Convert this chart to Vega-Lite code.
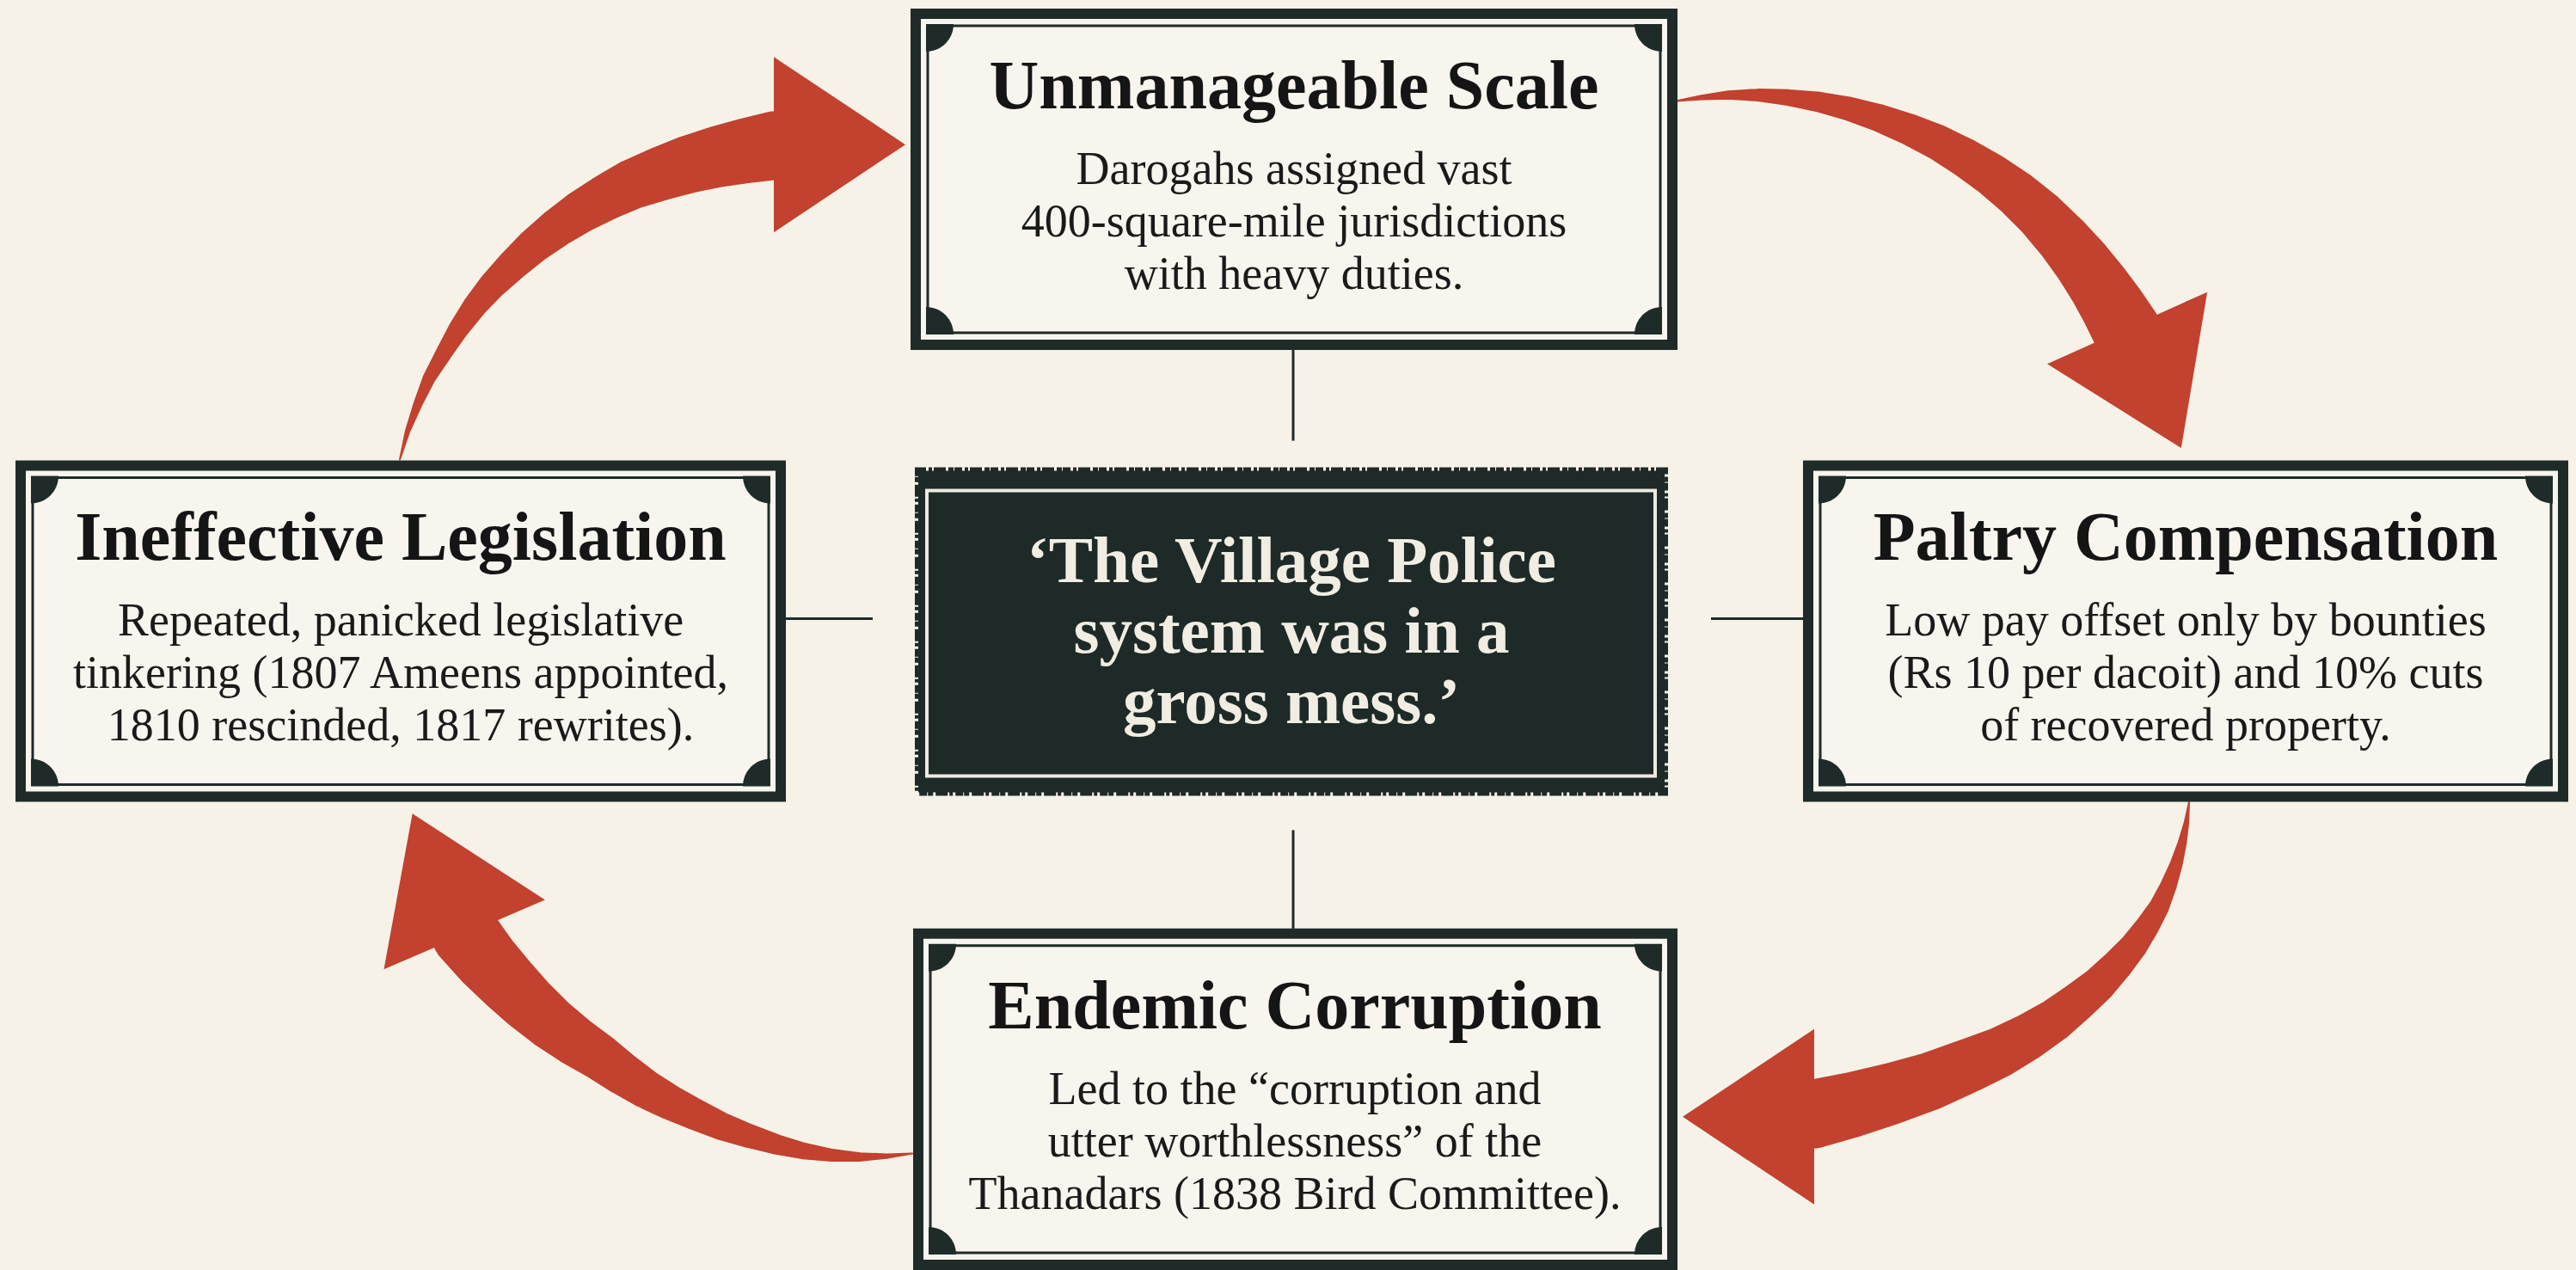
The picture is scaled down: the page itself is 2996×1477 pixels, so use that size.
{
  "$schema": "https://vega.github.io/schema/vega-lite/v6.json",
  "width": 2996,
  "height": 1477,
  "autosize": {"type": "fit", "contains": "padding"},
  "padding": 0,
  "background": "#f6f2e8",
  "config": {"view": {"stroke": null}},
  "datasets": {
    "boxes": [
      {"id": "top", "x1": 1065, "x2": 1945, "y1": 16, "y2": 403, "cx": 1505, "title": "Unmanageable Scale", "body": "Darogahs assigned vast\n400-square-mile jurisdictions\nwith heavy duties."},
      {"id": "left", "x1": 24, "x2": 908, "y1": 544, "y2": 931, "cx": 466, "title": "Ineffective Legislation", "body": "Repeated, panicked legislative\ntinkering (1807 Ameens appointed,\n1810 rescinded, 1817 rewrites)."},
      {"id": "right", "x1": 2103, "x2": 2981, "y1": 544, "y2": 931, "cx": 2542, "title": "Paltry Compensation", "body": "Low pay offset only by bounties\n(Rs 10 per dacoit) and 10% cuts\nof recovered property."},
      {"id": "bottom", "x1": 1068, "x2": 1945, "y1": 1091, "y2": 1478, "cx": 1506, "title": "Endemic Corruption", "body": "Led to the \u201ccorruption and\nutter worthlessness\u201d of the\nThanadars (1838 Bird Committee)."}
    ],
    "center": [
      {"x1": 1068, "x2": 1936, "y1": 550, "y2": 926, "cx": 1502, "ty": 680, "quote": "\u2018The Village Police\nsystem was in a\ngross mess.\u2019"}
    ],
    "links": [
      {"x": 1504, "y": 409, "x2": 1504, "y2": 515},
      {"x": 1504, "y": 970, "x2": 1504, "y2": 1085},
      {"x": 914, "y": 723, "x2": 1015, "y2": 723},
      {"x": 1990, "y": 723, "x2": 2097, "y2": 723}
    ],
    "arrows": [
      {"arrow": "A", "t": 0, "x": 465, "y": 537},
      {"arrow": "A", "t": 1, "x": 474, "y": 504},
      {"arrow": "A", "t": 2, "x": 486, "y": 472},
      {"arrow": "A", "t": 3, "x": 499, "y": 442},
      {"arrow": "A", "t": 4, "x": 516, "y": 413},
      {"arrow": "A", "t": 5, "x": 533, "y": 385},
      {"arrow": "A", "t": 6, "x": 552, "y": 358},
      {"arrow": "A", "t": 7, "x": 573, "y": 333},
      {"arrow": "A", "t": 8, "x": 596, "y": 310},
      {"arrow": "A", "t": 9, "x": 621, "y": 287},
      {"arrow": "A", "t": 10, "x": 648, "y": 266},
      {"arrow": "A", "t": 11, "x": 676, "y": 247},
      {"arrow": "A", "t": 12, "x": 706, "y": 230},
      {"arrow": "A", "t": 13, "x": 736, "y": 215},
      {"arrow": "A", "t": 14, "x": 768, "y": 203},
      {"arrow": "A", "t": 15, "x": 801, "y": 192},
      {"arrow": "A", "t": 16, "x": 835, "y": 183},
      {"arrow": "A", "t": 17, "x": 868, "y": 176},
      {"arrow": "A", "t": 18, "x": 902, "y": 170},
      {"arrow": "B", "t": 0, "x": 1949, "y": 118},
      {"arrow": "B", "t": 1, "x": 1979, "y": 114},
      {"arrow": "B", "t": 2, "x": 2010, "y": 111},
      {"arrow": "B", "t": 3, "x": 2045, "y": 111},
      {"arrow": "B", "t": 4, "x": 2080, "y": 114},
      {"arrow": "B", "t": 5, "x": 2115, "y": 119},
      {"arrow": "B", "t": 6, "x": 2150, "y": 127},
      {"arrow": "B", "t": 7, "x": 2186, "y": 138},
      {"arrow": "B", "t": 8, "x": 2220, "y": 151},
      {"arrow": "B", "t": 9, "x": 2253, "y": 166},
      {"arrow": "B", "t": 10, "x": 2285, "y": 184},
      {"arrow": "B", "t": 11, "x": 2316, "y": 204},
      {"arrow": "B", "t": 12, "x": 2345, "y": 226},
      {"arrow": "B", "t": 13, "x": 2374, "y": 252},
      {"arrow": "B", "t": 14, "x": 2400, "y": 280},
      {"arrow": "B", "t": 15, "x": 2422, "y": 307},
      {"arrow": "B", "t": 16, "x": 2442, "y": 335},
      {"arrow": "B", "t": 17, "x": 2458, "y": 360},
      {"arrow": "B", "t": 18, "x": 2473, "y": 386},
      {"arrow": "C", "t": 0, "x": 2546, "y": 937},
      {"arrow": "C", "t": 1, "x": 2543, "y": 961},
      {"arrow": "C", "t": 2, "x": 2538, "y": 985},
      {"arrow": "C", "t": 3, "x": 2531, "y": 1010},
      {"arrow": "C", "t": 4, "x": 2522, "y": 1035},
      {"arrow": "C", "t": 5, "x": 2511, "y": 1060},
      {"arrow": "C", "t": 6, "x": 2497, "y": 1083},
      {"arrow": "C", "t": 7, "x": 2481, "y": 1106},
      {"arrow": "C", "t": 8, "x": 2462, "y": 1128},
      {"arrow": "C", "t": 9, "x": 2440, "y": 1151},
      {"arrow": "C", "t": 10, "x": 2415, "y": 1172},
      {"arrow": "C", "t": 11, "x": 2388, "y": 1193},
      {"arrow": "C", "t": 12, "x": 2358, "y": 1212},
      {"arrow": "C", "t": 13, "x": 2325, "y": 1230},
      {"arrow": "C", "t": 14, "x": 2290, "y": 1245},
      {"arrow": "C", "t": 15, "x": 2246, "y": 1263},
      {"arrow": "C", "t": 16, "x": 2200, "y": 1278},
      {"arrow": "C", "t": 17, "x": 2154, "y": 1291},
      {"arrow": "C", "t": 18, "x": 2108, "y": 1302},
      {"arrow": "D", "t": 0, "x": 1061, "y": 1348},
      {"arrow": "D", "t": 1, "x": 1031, "y": 1351},
      {"arrow": "D", "t": 2, "x": 1000, "y": 1352},
      {"arrow": "D", "t": 3, "x": 968, "y": 1350},
      {"arrow": "D", "t": 4, "x": 935, "y": 1345},
      {"arrow": "D", "t": 5, "x": 902, "y": 1337},
      {"arrow": "D", "t": 6, "x": 870, "y": 1327},
      {"arrow": "D", "t": 7, "x": 839, "y": 1316},
      {"arrow": "D", "t": 8, "x": 808, "y": 1302},
      {"arrow": "D", "t": 9, "x": 779, "y": 1288},
      {"arrow": "D", "t": 10, "x": 750, "y": 1272},
      {"arrow": "D", "t": 11, "x": 723, "y": 1254},
      {"arrow": "D", "t": 12, "x": 697, "y": 1235},
      {"arrow": "D", "t": 13, "x": 668, "y": 1216},
      {"arrow": "D", "t": 14, "x": 640, "y": 1195},
      {"arrow": "D", "t": 15, "x": 614, "y": 1172},
      {"arrow": "D", "t": 16, "x": 590, "y": 1148},
      {"arrow": "D", "t": 17, "x": 565, "y": 1121},
      {"arrow": "D", "t": 18, "x": 542, "y": 1092}
    ],
    "heads": [
      {"arrow": "A", "x": 951, "y": 169, "dir": 0},
      {"arrow": "B", "x": 2495, "y": 430, "dir": 65.8},
      {"arrow": "C", "x": 2059, "y": 1305, "dir": 180},
      {"arrow": "D", "x": 520, "y": 1045, "dir": 246.7}
    ]
  },
  "layer": [
    {
      "data": {"name": "links"},
      "mark": {"type": "rule", "color": "#1e2b29", "strokeWidth": 3},
      "encoding": {
        "x": {"field": "x", "type": "quantitative", "scale": {"domain": [0, 2996], "nice": false, "zero": false}, "axis": null},
        "y": {"field": "y", "type": "quantitative", "scale": {"domain": [0, 1477], "nice": false, "zero": false, "reverse": true}, "axis": null},
        "x2": {"field": "x2"},
        "y2": {"field": "y2"}
      }
    },
    {
      "data": {"name": "arrows"},
      "mark": {"type": "trail", "color": "#c2412f"},
      "encoding": {
        "x": {"field": "x", "type": "quantitative", "scale": {"domain": [0, 2996], "nice": false, "zero": false}, "axis": null},
        "y": {"field": "y", "type": "quantitative", "scale": {"domain": [0, 1477], "nice": false, "zero": false, "reverse": true}, "axis": null},
        "size": {"field": "t", "type": "quantitative", "scale": {"domain": [0, 18], "range": [2, 80]}, "legend": null},
        "detail": {"field": "arrow"},
        "order": {"field": "t"}
      }
    },
    {
      "data": {"name": "heads"},
      "mark": {"type": "point", "filled": true, "color": "#c2412f", "opacity": 1, "strokeWidth": 0, "size": 41616, "shape": "M-0.5,-1L1,0L-0.5,1Z"},
      "encoding": {
        "x": {"field": "x", "type": "quantitative", "scale": {"domain": [0, 2996], "nice": false, "zero": false}, "axis": null},
        "y": {"field": "y", "type": "quantitative", "scale": {"domain": [0, 1477], "nice": false, "zero": false, "reverse": true}, "axis": null},
        "angle": {"field": "dir", "type": "quantitative", "scale": {"domain": [0, 360], "range": [0, 360]}, "legend": null}
      }
    },
    {
      "data": {"name": "boxes"},
      "mark": {"type": "rect", "fill": "#f8f5ee", "stroke": "#1e2b29", "strokeWidth": 12},
      "encoding": {
        "x": {"field": "x1", "type": "quantitative", "scale": {"domain": [0, 2996], "nice": false, "zero": false}, "axis": null},
        "y": {"field": "y1", "type": "quantitative", "scale": {"domain": [0, 1477], "nice": false, "zero": false, "reverse": true}, "axis": null},
        "x2": {"field": "x2"},
        "y2": {"field": "y2"}
      }
    },
    {
      "data": {"name": "boxes"},
      "mark": {"type": "rect", "fill": null, "fillOpacity": 0, "stroke": "#1e2b29", "strokeWidth": 3, "xOffset": 14, "x2Offset": -14, "yOffset": 14, "y2Offset": -14},
      "encoding": {
        "x": {"field": "x1", "type": "quantitative", "scale": {"domain": [0, 2996], "nice": false, "zero": false}, "axis": null},
        "y": {"field": "y1", "type": "quantitative", "scale": {"domain": [0, 1477], "nice": false, "zero": false, "reverse": true}, "axis": null},
        "x2": {"field": "x2"},
        "y2": {"field": "y2"}
      }
    },
    {
      "data": {"name": "boxes"},
      "mark": {"type": "point", "filled": true, "color": "#1e2b29", "opacity": 1, "strokeWidth": 0, "size": 4096, "shape": "M0,0L1,0A1,1 0 0 1 0,1Z", "angle": 0, "xOffset": 12, "yOffset": 12},
      "encoding": {
        "x": {"field": "x1", "type": "quantitative", "scale": {"domain": [0, 2996], "nice": false, "zero": false}, "axis": null},
        "y": {"field": "y1", "type": "quantitative", "scale": {"domain": [0, 1477], "nice": false, "zero": false, "reverse": true}, "axis": null}
      }
    },
    {
      "data": {"name": "boxes"},
      "mark": {"type": "point", "filled": true, "color": "#1e2b29", "opacity": 1, "strokeWidth": 0, "size": 4096, "shape": "M0,0L1,0A1,1 0 0 1 0,1Z", "angle": 90, "xOffset": -12, "yOffset": 12},
      "encoding": {
        "x": {"field": "x2", "type": "quantitative", "scale": {"domain": [0, 2996], "nice": false, "zero": false}, "axis": null},
        "y": {"field": "y1", "type": "quantitative", "scale": {"domain": [0, 1477], "nice": false, "zero": false, "reverse": true}, "axis": null}
      }
    },
    {
      "data": {"name": "boxes"},
      "mark": {"type": "point", "filled": true, "color": "#1e2b29", "opacity": 1, "strokeWidth": 0, "size": 4096, "shape": "M0,0L1,0A1,1 0 0 1 0,1Z", "angle": 180, "xOffset": -12, "yOffset": -12},
      "encoding": {
        "x": {"field": "x2", "type": "quantitative", "scale": {"domain": [0, 2996], "nice": false, "zero": false}, "axis": null},
        "y": {"field": "y2", "type": "quantitative", "scale": {"domain": [0, 1477], "nice": false, "zero": false, "reverse": true}, "axis": null}
      }
    },
    {
      "data": {"name": "boxes"},
      "mark": {"type": "point", "filled": true, "color": "#1e2b29", "opacity": 1, "strokeWidth": 0, "size": 4096, "shape": "M0,0L1,0A1,1 0 0 1 0,1Z", "angle": 270, "xOffset": 12, "yOffset": -12},
      "encoding": {
        "x": {"field": "x1", "type": "quantitative", "scale": {"domain": [0, 2996], "nice": false, "zero": false}, "axis": null},
        "y": {"field": "y2", "type": "quantitative", "scale": {"domain": [0, 1477], "nice": false, "zero": false, "reverse": true}, "axis": null}
      }
    },
    {
      "data": {"name": "boxes"},
      "mark": {"type": "text", "font": "Liberation Serif", "fontWeight": "bold", "fontSize": 80, "color": "#151515", "align": "center", "baseline": "alphabetic", "yOffset": 110},
      "encoding": {
        "x": {"field": "cx", "type": "quantitative", "scale": {"domain": [0, 2996], "nice": false, "zero": false}, "axis": null},
        "y": {"field": "y1", "type": "quantitative", "scale": {"domain": [0, 1477], "nice": false, "zero": false, "reverse": true}, "axis": null},
        "text": {"field": "title"}
      }
    },
    {
      "data": {"name": "boxes"},
      "mark": {"type": "text", "font": "Liberation Serif", "fontSize": 54, "color": "#1a1a1a", "align": "center", "baseline": "alphabetic", "yOffset": 198, "lineBreak": "\n", "lineHeight": 61},
      "encoding": {
        "x": {"field": "cx", "type": "quantitative", "scale": {"domain": [0, 2996], "nice": false, "zero": false}, "axis": null},
        "y": {"field": "y1", "type": "quantitative", "scale": {"domain": [0, 1477], "nice": false, "zero": false, "reverse": true}, "axis": null},
        "text": {"field": "body"}
      }
    },
    {
      "data": {"name": "center"},
      "mark": {"type": "rect", "fill": "#1d2a28", "stroke": "#1d2a28", "strokeWidth": 8, "strokeDash": [9, 3, 4, 2, 14, 3, 6, 1]},
      "encoding": {
        "x": {"field": "x1", "type": "quantitative", "scale": {"domain": [0, 2996], "nice": false, "zero": false}, "axis": null},
        "y": {"field": "y1", "type": "quantitative", "scale": {"domain": [0, 1477], "nice": false, "zero": false, "reverse": true}, "axis": null},
        "x2": {"field": "x2"},
        "y2": {"field": "y2"}
      }
    },
    {
      "data": {"name": "center"},
      "mark": {"type": "rect", "fill": null, "fillOpacity": 0, "stroke": "#eeeadf", "strokeWidth": 4, "xOffset": 10, "x2Offset": -11, "yOffset": 23, "y2Offset": -19},
      "encoding": {
        "x": {"field": "x1", "type": "quantitative", "scale": {"domain": [0, 2996], "nice": false, "zero": false}, "axis": null},
        "y": {"field": "y1", "type": "quantitative", "scale": {"domain": [0, 1477], "nice": false, "zero": false, "reverse": true}, "axis": null},
        "x2": {"field": "x2"},
        "y2": {"field": "y2"}
      }
    },
    {
      "data": {"name": "center"},
      "mark": {"type": "text", "font": "Liberation Serif", "fontWeight": "bold", "fontSize": 77, "color": "#f1ede2", "align": "center", "baseline": "alphabetic", "lineBreak": "\n", "lineHeight": 82},
      "encoding": {
        "x": {"field": "cx", "type": "quantitative", "scale": {"domain": [0, 2996], "nice": false, "zero": false}, "axis": null},
        "y": {"field": "ty", "type": "quantitative", "scale": {"domain": [0, 1477], "nice": false, "zero": false, "reverse": true}, "axis": null},
        "text": {"field": "quote"}
      }
    }
  ]
}
